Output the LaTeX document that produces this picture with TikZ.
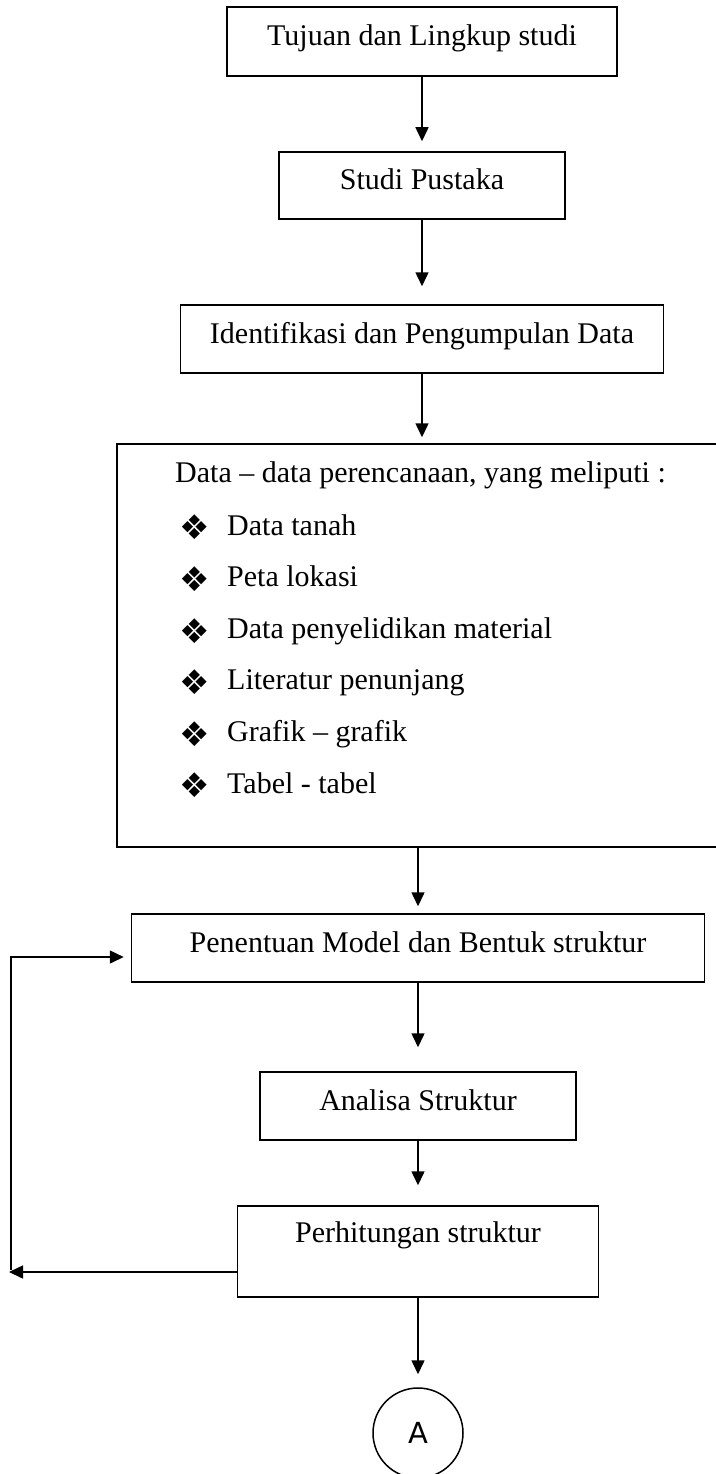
\documentclass[tikz,border=0pt]{standalone}
\usepackage{fontspec}
\setmainfont{Liberation Serif}
\newfontfamily\tandafont{DejaVu Sans}
\usetikzlibrary{arrows.meta}

\begin{document}
\begin{tikzpicture}[x=1pt,y=-1pt,
		every node/.style={inner sep=0pt,font=\fontsize{30}{36}\selectfont},
		box/.style={draw,line width=1.5pt,text height=20pt,text depth=12pt},
		arr/.style={line width=1.5pt,-{Triangle[length=14pt,width=13pt]}}]
	\useasboundingbox (0,0) rectangle (715,1474);

	\node[box,minimum width=390pt,minimum height=69pt] (tujuan) at (422,41.5) {Tujuan dan Lingkup studi};
	\node[box,minimum width=286pt,minimum height=67pt] (pustaka) at (422,185.5) {Studi Pustaka};
	\node[box,minimum width=483pt,minimum height=68pt] (identifikasi) at (422,339) {Identifikasi dan Pengumpulan Data};
	\node[box,minimum width=608pt,minimum height=403pt] (data) at (421,645.5) {};
	\node[box,minimum width=573pt,minimum height=68pt] (penentuan) at (418,948) {Penentuan Model dan Bentuk struktur};
	\node[box,minimum width=316pt,minimum height=68pt] (analisa) at (418,1106) {Analisa Struktur};
	\node[box,minimum width=361pt,minimum height=91pt] (perhitungan) at (418,1251.5) {};
	\node (perhitunganlbl) at (418,1235) {Perhitungan struktur};
	\node[draw,circle,line width=1.5pt,minimum size=90pt,font=\tandafont\fontsize{29}{34}\selectfont] (A) at (418,1433) {A};

	\node[anchor=base west] (judul) at (175,482) {Data – data perencanaan, yang meliputi :};
	\foreach \txt [count=\i] in {Data tanah, Peta lokasi, Data penyelidikan material, Literatur penunjang, Grafik – grafik, Tabel - tabel} {
			\node[anchor=base west] (butir\i) at (227,{535+51.6*(\i-1)}) {\txt};
			\node[font=\tandafont\fontsize{34}{40}\selectfont] (tanda\i) at (195,{527.5+51.6*(\i-1)}) {❖};
		}

	\foreach \a/\b/\g in {tujuan/pustaka/10,pustaka/identifikasi/18,penentuan/analisa/24,analisa/perhitungan/20,perhitungan/A/13} {
			\draw[arr,shorten >=\g pt] (\a) -- (\b);
		}
	\draw[arr,shorten >=6pt] (identifikasi) -- (identifikasi |- data.north);
	\draw[arr,shorten >=7pt] (penentuan |- data.south) -- (penentuan);

	\coordinate (ujungkiri) at (9,1272);
	\coordinate (pojokbawah) at (11,1270);
	\coordinate (pojokatas) at (11,957);
	\draw[arr] (perhitungan.west |- ujungkiri) -- (ujungkiri);
	\draw[arr,shorten >=7pt] (pojokbawah) -- (pojokatas) -- (penentuan.west |- pojokatas);
\end{tikzpicture}
\end{document}
